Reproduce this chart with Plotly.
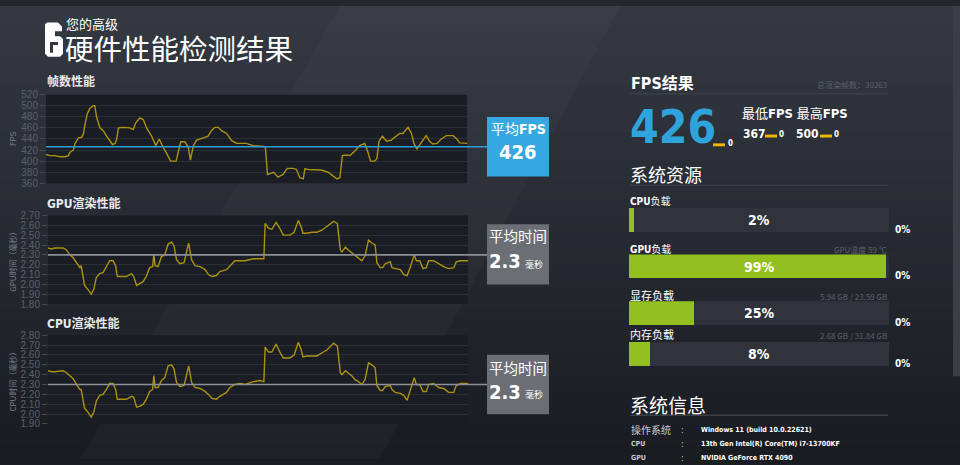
import plotly.graph_objects as go

W, H = 960, 465

# ---------------- data ----------------
FPS_T = [0,0.9,2.1,3.3,4.5,5.3,5.7,6.5,6.9,7.7,8.5,8.9,9.3,9.8,10.4,11.2,11.6,12.0,12.8,13.6,
         14.4,15.2,15.8,16.4,16.8,17.2,18.4,19.9,20.7,21.4,22.3,23.1,23.9,25.1,26.1,26.9,27.8,28.6,29.6,30.9,
         31.4,32.0,33.0,33.8,34.3,35.0,35.8,36.6,37.3,38.5,39.3,40.1,40.9,41.7,42.9,44.1,45.3,47.6,49.2,51.6,
         52.1,52.6,53.3,54.1,55.1,56.3,57.3,58.7,59.5,60.3,61.1,61.5,62.3,63.8,65.4,67.0,68.2,69.1,69.8,70.4,
         71.4,72.2,73.3,74.5,75.7,76.3,77.1,78.1,78.6,79.1,79.9,80.9,82.0,83.2,84.0,84.8,85.4,86.0,86.8,87.4,
         88.1,88.8,89.6,90.3,91.1,91.9,92.9,93.9,95.1,96.7,97.6,98.3,100]
FPS_V = [412,410,410,408,408,410,416,420,432,442,443,450,468,485,495,500,500,480,460,455,
         445,435,430,432,440,460,461,460,457,470,478,475,460,445,428,440,425,415,400,400,
         415,435,435,425,402,428,438,440,441,445,455,461,461,455,450,437,432,432,428,426,
         426,376,378,380,371,376,387,387,385,370,368,386,385,385,384,380,373,368,370,410,
         411,410,418,428,432,420,400,400,405,436,445,436,438,445,450,450,455,461,450,432,
         422,430,440,446,436,431,432,440,446,446,440,433,432]

TIME_T = [0,0.8,1.6,3.6,4.4,5.2,6.0,6.8,7.6,7.9,8.7,9.5,10.3,10.9,11.5,12.3,13.1,13.9,14.7,15.5,
          16.1,16.5,17.9,18.7,19.9,20.4,21.1,21.9,22.7,23.4,24.2,24.9,25.2,25.5,26.2,27.0,27.8,28.6,29.4,30.0,
          30.6,31.4,32.4,33.0,33.5,34.2,35.0,36.2,37.4,38.2,39.0,40.1,40.9,42.5,43.3,44.5,45.7,46.9,48.9,50.5,
          51.4,51.7,52.5,53.3,54.3,55.2,56.0,57.6,58.6,59.6,60.3,60.7,61.6,62.8,64.0,65.2,66.4,68.0,68.9,69.6,
          70.0,70.8,71.5,72.3,73.1,73.9,74.7,75.5,76.3,77.1,77.9,78.3,79.1,79.7,80.3,81.5,81.9,82.7,83.9,84.7,
          85.5,86.3,87.2,87.7,88.5,89.3,90.1,90.6,91.8,93.0,94.2,95.4,96.6,97.2,98.2,100]
GPU_V = [2.37,2.36,2.37,2.37,2.35,2.30,2.27,2.22,2.17,2.19,1.99,1.95,1.90,1.95,2.07,2.11,2.12,2.18,2.24,2.24,
         2.19,2.08,2.08,2.08,2.11,2.08,1.99,2.01,2.03,2.08,2.17,2.18,2.30,2.19,2.18,2.28,2.30,2.41,2.43,2.39,
         2.25,2.21,2.22,2.33,2.42,2.25,2.19,2.18,2.15,2.10,2.08,2.09,2.13,2.15,2.19,2.24,2.24,2.24,2.26,2.26,
         2.26,2.62,2.57,2.56,2.63,2.57,2.50,2.50,2.53,2.65,2.58,2.52,2.52,2.53,2.53,2.55,2.59,2.64,2.62,2.35,
         2.33,2.38,2.35,2.32,2.29,2.27,2.24,2.29,2.45,2.42,2.40,2.22,2.17,2.17,2.21,2.23,2.17,2.16,2.15,2.10,
         2.09,2.18,2.30,2.24,2.24,2.16,2.17,2.24,2.24,2.21,2.18,2.16,2.17,2.23,2.24,2.24]
CPU_V = [2.44,2.43,2.43,2.44,2.42,2.39,2.36,2.30,2.25,2.25,2.06,2.02,1.97,2.02,2.13,2.19,2.20,2.25,2.31,2.31,
         2.25,2.15,2.15,2.15,2.18,2.17,2.07,2.08,2.10,2.15,2.23,2.25,2.39,2.27,2.27,2.34,2.37,2.49,2.50,2.46,
         2.32,2.28,2.29,2.42,2.49,2.32,2.27,2.26,2.23,2.20,2.16,2.15,2.18,2.22,2.27,2.30,2.31,2.30,2.33,2.34,
         2.33,2.68,2.63,2.63,2.71,2.63,2.57,2.57,2.60,2.73,2.65,2.58,2.59,2.59,2.59,2.62,2.65,2.72,2.69,2.42,
         2.40,2.44,2.42,2.39,2.35,2.33,2.30,2.35,2.52,2.50,2.47,2.29,2.24,2.24,2.28,2.29,2.25,2.22,2.21,2.19,
         2.14,2.24,2.37,2.30,2.30,2.23,2.23,2.30,2.31,2.27,2.26,2.22,2.22,2.29,2.31,2.31]

FPS_AVG = 426
GPU_AVG = 2.3
CPU_AVG = 2.3
FPS_MIN = 367
FPS_MAX = 500
TOTAL_FRAMES = 30263

FPS_TICKS = [360, 380, 400, 420, 440, 460, 480, 500, 520]
GPU_TICKS = [1.8, 1.9, 2.0, 2.1, 2.2, 2.3, 2.4, 2.5, 2.6, 2.7]
CPU_TICKS = [1.9, 2.0, 2.1, 2.2, 2.3, 2.4, 2.5, 2.6, 2.7, 2.8]

RES_LABELS = ["CPU负载", "GPU负载", "显存负载", "内存负载"]
RES_VALUES = [2, 99, 25, 8]
RES_NOTES = ["", "GPU温度 59 ℃", "5.94 GB / 23.59 GB", "2.68 GB / 31.84 GB"]

INFO_KEYS = ["操作系统", "CPU", "GPU"]
INFO_VALS = ["Windows 11 (build 10.0.22621)", "13th Gen Intel(R) Core(TM) i7-13700KF", "NVIDIA GeForce RTX 4090"]

# ---------------- helpers ----------------
def X(px):
    return px / W

def Y(py):
    return 1 - py / H

CJK = "Noto Sans CJK SC, sans-serif"
NUM = "Liberation Sans Narrow, DejaVu Sans Condensed, Roboto Condensed, Noto Sans CJK SC, sans-serif"
LINE = "#ab9210"
GRID = "#2a2e35"
TICK = "#5b6069"
PLOTBG = "#1a1d23"

fig = go.Figure()
shapes = []
ann = []

def txt(px, py, text, size, color="white", family=CJK, xanchor="left", **kw):
    d = dict(x=X(px), y=Y(py), xref="paper", yref="paper", xanchor=xanchor, yanchor="middle",
             text=text, showarrow=False, font=dict(size=size, color=color, family=family),
             borderpad=0)
    d.update(kw)
    ann.append(d)

def poly(pts, color, layer="above"):
    p = "M " + " L ".join("%f %f" % (X(a), Y(b)) for a, b in pts) + " Z"
    shapes.append(dict(type="path", xref="paper", yref="paper", path=p, fillcolor=color,
                       line=dict(width=0), layer=layer))

# background gradient
top = (52, 57, 66)
bot = (26, 28, 34)
n = 47
for i in range(n):
    f = i / (n - 1)
    c = tuple(int(top[k] + (bot[k] - top[k]) * f) for k in range(3))
    shapes.append(dict(type="rect", xref="paper", yref="paper", x0=0, x1=1,
                       y0=Y((i + 1) * 10 + 1), y1=Y(i * 10), fillcolor="rgb(%d,%d,%d)" % c,
                       line=dict(width=0), layer="below"))
poly([(340, 0), (620, 0), (380, 465), (80, 465)], "rgba(255,255,255,0.025)", "below")
shapes.append(dict(type="rect", xref="paper", yref="paper", x0=X(953), x1=1, y0=Y(380), y1=1,
                   fillcolor="#3a3e46", line=dict(width=0), layer="below"))

# ---------------- line charts ----------------
charts = [
    dict(ax="", t=FPS_T, v=FPS_V, x0=46, x1=467, y0=91, y1=182, rng=[360, 520], ticks=FPS_TICKS, fmt="d",
         avg=FPS_AVG, avgcol="#2e9fd6", title="<b>帧数性能</b>", ty=78, ytitle="FPS",
         box=(487, 549, 114, 175), boxcol="#36a8e0"),
    dict(ax="2", t=TIME_T, v=GPU_V, x0=48, x1=468, y0=215, y1=306, rng=[1.8, 2.7], ticks=GPU_TICKS, fmt=".2f",
         avg=GPU_AVG, avgcol="#8c9096", title="<b>GPU渲染性能</b>", ty=203, ytitle="GPU时间（毫秒）",
         box=(487, 549, 224, 286), boxcol="#6b6e75"),
    dict(ax="3", t=TIME_T, v=CPU_V, x0=48, x1=468, y0=338, y1=429, rng=[1.9, 2.8], ticks=CPU_TICKS, fmt=".2f",
         avg=CPU_AVG, avgcol="#8c9096", title="<b>CPU渲染性能</b>", ty=326, ytitle="CPU时间（毫秒）",
         box=(487, 549, 358, 419), boxcol="#6b6e75"),
]

for c in charts:
    a = c["ax"]
    xa = "xaxis" + a
    ya = "yaxis" + a
    fig.add_trace(go.Scatter(x=c["t"], y=c["v"], mode="lines", line=dict(color=LINE, width=1.4),
                             xaxis="x" + a, yaxis="y" + a, hoverinfo="skip", showlegend=False))
    fig.update_layout(**{
        xa: dict(domain=[X(c["x0"]), X(c["x1"])], range=[0, 100], visible=False, anchor="y" + a),
        ya: dict(domain=[Y(c["y1"]), Y(c["y0"])], range=c["rng"], anchor="x" + a,
                 tickvals=c["ticks"], tickformat=c["fmt"], showgrid=True, gridcolor=GRID, gridwidth=1,
                 zeroline=False, ticks="outside", ticklen=5, tickcolor="#454950",
                 tickfont=dict(size=10, color=TICK, family="Liberation Sans, Roboto, sans-serif"),
                 showline=False),
    })
    shapes.append(dict(type="rect", xref="paper", yref="paper", x0=X(c["x0"]), x1=X(c["x1"]),
                       y0=Y(c["y1"]), y1=Y(c["y0"]), fillcolor=PLOTBG, line=dict(width=0), layer="below"))
    shapes.append(dict(type="line", xref="paper", yref="y" + a, x0=X(c["x0"]), x1=X(c["box"][0]),
                       y0=c["avg"], y1=c["avg"], line=dict(color=c["avgcol"], width=1.6), layer="above"))
    bx0, bx1, by0, by1 = c["box"]
    shapes.append(dict(type="rect", xref="paper", yref="paper", x0=X(bx0), x1=X(bx1), y0=Y(by1), y1=Y(by0),
                       fillcolor=c["boxcol"], line=dict(width=0), layer="above"))
    txt(46, c["ty"], c["title"], 12, "#e8e9ea", NUM)
    txt(13, (c["y0"] + c["y1"]) / 2, c["ytitle"], 8, "#7d818a", CJK, xanchor="center", textangle=-90)

# box texts
txt(518, 126, "平均<b>FPS</b>", 14, family=NUM, xanchor="center")
txt(518, 150, "<b>%d</b>" % FPS_AVG, 20, family=NUM, xanchor="center")
for cy, ty in [(236, 262), (371, 396)]:
    txt(518, cy, "平均时间", 14.5, xanchor="center")
    txt(522, ty, "<b>%.1f</b>" % GPU_AVG, 20, family=NUM, xanchor="right")
    txt(524, ty + 3, "毫秒", 9)

# ---------------- header logo ----------------
poly([(47, 17), (58, 17), (62, 21), (62, 26), (55, 26), (55, 31), (60, 31), (63, 34), (63, 49), (60, 52),
      (48, 52), (45, 49), (45, 19)], "white")
poly([(50, 37), (58, 37), (58, 40), (53, 40), (53, 48), (50, 48)], "#31363f")
txt(65, 18, "您的高级", 13)
txt(64, 43, "硬件性能检测结果", 28.5)

# ---------------- right panel ----------------
RX0, RX1 = 630, 888
txt(RX0, 80, "<b>FPS结果</b>", 16, family=NUM)
txt(RX1, 81, "总渲染帧数：%d" % TOTAL_FRAMES, 8, "#5d6169", xanchor="right")
shapes.append(dict(type="line", xref="paper", yref="paper", x0=X(RX0), x1=X(RX1), y0=Y(90), y1=Y(90),
                   line=dict(color="#3a3e46", width=1.5), layer="below"))
txt(629, 124, "<b>%d</b>" % FPS_AVG, 46, "#2fa3dc", NUM)
for (mx, my, nx) in [(713, 142, 730), (765, 133, 781), (820, 133, 836)]:
    shapes.append(dict(type="rect", xref="paper", yref="paper", x0=X(mx), x1=X(mx + 12), y0=Y(my + 2), y1=Y(my - 1),
                       fillcolor="#f2b705", line=dict(width=0), layer="above"))
    txt(nx, my - 1, "<b>0</b>", 8, family=NUM, xanchor="center")
txt(741, 110, "最低<b>FPS</b> 最高<b>FPS</b>", 13, family=NUM)
txt(742, 131, "<b>%d</b>" % FPS_MIN, 12, family=NUM)
txt(795, 131, "<b>%d</b>" % FPS_MAX, 12, family=NUM)

txt(629, 172, "系统资源", 18)
shapes.append(dict(type="line", xref="paper", yref="paper", x0=X(RX0), x1=X(RX1), y0=Y(184), y1=Y(184),
                   line=dict(color="#3a3e46", width=1.5), layer="below"))

bar_rows = [(207, 232, 200), (255, 280, 249), (303, 328, 297), (345, 370, 337)]
for i, (lab, val, note) in enumerate(zip(RES_LABELS, RES_VALUES, RES_NOTES)):
    k = str(4 + i)
    by0, by1, ly = bar_rows[i]
    fig.add_trace(go.Bar(x=[100], y=[0], orientation="h", width=1, marker=dict(color="#30333b", line=dict(width=0)),
                         xaxis="x" + k, yaxis="y" + k, hoverinfo="skip", showlegend=False))
    fig.add_trace(go.Bar(x=[val], y=[0], orientation="h", width=1, marker=dict(color="#93bf1f", line=dict(width=0)),
                         xaxis="x" + k, yaxis="y" + k, hoverinfo="skip", showlegend=False))
    fig.update_layout(**{
        "xaxis" + k: dict(domain=[X(629), X(889)], range=[0, 100], visible=False, anchor="y" + k),
        "yaxis" + k: dict(domain=[Y(by1), Y(by0)], range=[-0.5, 0.5], visible=False, anchor="x" + k),
    })
    ann.append(dict(x=0.5, y=0.5, xref="x%s domain" % k, yref="y%s domain" % k, xanchor="center", yanchor="middle",
                    text="<b>%d%%</b>" % val, showarrow=False, font=dict(size=14, color="white", family=NUM)))
    if lab.startswith(("CPU", "GPU")):
        txt(629, ly, "<b>%s</b>%s" % (lab[:3], lab[3:]), 10, family=NUM)
    else:
        txt(629, ly, lab, 11)
    if note:
        txt(888, ly + 1, note, 8, "#5d6169", xanchor="right")
    txt(894, by1 - 3, "<b>0%</b>", 10, family=NUM)

txt(629, 409, "系统信息", 19)
shapes.append(dict(type="line", xref="paper", yref="paper", x0=X(RX0), x1=X(RX1), y0=Y(420), y1=Y(420),
                   line=dict(color="#3a3e46", width=1.5), layer="below"))
for i, (k_, v_) in enumerate(zip(INFO_KEYS, INFO_VALS)):
    yy = 435 + i * 14.5
    if i == 0:
        txt(630, yy, k_, 10, "#c8cacd")
    else:
        txt(630, yy, "<b>%s</b>" % k_, 7, "#c8cacd", NUM)
    txt(682, yy, ":", 9, "#c8cacd", NUM, xanchor="center")
    txt(700, yy, "<b>%s</b>" % v_, 7, "white", NUM)

fig.update_layout(width=W, height=H, margin=dict(l=0, r=0, t=0, b=0),
                  paper_bgcolor="#23262d", plot_bgcolor="rgba(0,0,0,0)",
                  barmode="overlay", bargap=0, showlegend=False,
                  shapes=shapes, annotations=ann)

fig.write_html("out.html", config={"displayModeBar": False},
               post_script="document.body.style.margin='0';document.body.style.overflow='hidden';")
